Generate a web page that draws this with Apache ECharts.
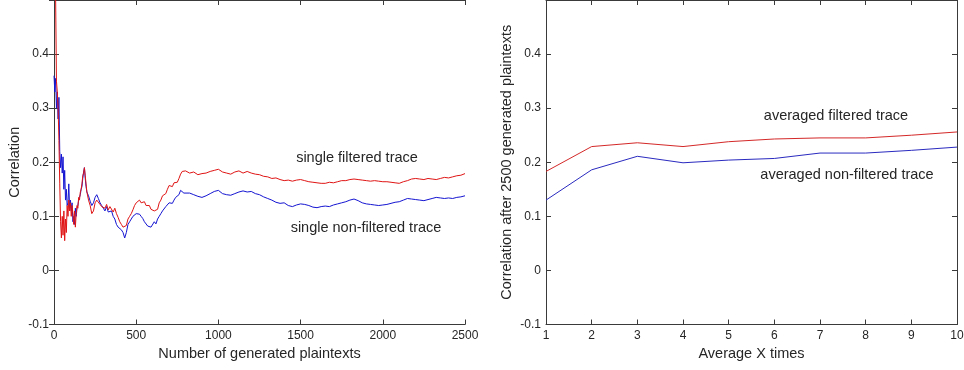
<!DOCTYPE html>
<html>
<head>
<meta charset="utf-8">
<script src="https://cdn.jsdelivr.net/npm/echarts@6/dist/echarts.min.js"></script>
<style>
html,body{margin:0;padding:0;background:#fff;}
#c{width:964px;height:370px;}
</style>
</head>
<body>
<div id="c"></div>
<script>
// ---- data ----
const leftSamples = [
0,5,10,15,20,25,30,35,40,45,50,55,60,65,70,75,80,85,90,95,100,105,110,115,120,125,130,135,140,145,150,155,160,165,170,175,180,185,190,195,200,
210,220,230,240,250,260,270,280,290,300,310,320,330,340,350,360,370,380,390,400,410,420,430,440,450,460,470,480,490,500,
510,520,530,540,550,560,570,580,590,600,610,620,630,640,650,660,670,680,690,700,710,720,730,740,750,760,770,780,790,800,
825,850,875,900,925,950,975,1000,1025,1050,1075,1100,1125,1150,1175,1200,1225,1250,1275,1300,1325,1350,1375,1400,1425,1450,1475,1500,
1525,1550,1575,1600,1625,1650,1675,1700,1725,1750,1775,1800,1825,1850,1875,1900,1925,1950,1975,2000,2025,2050,2075,2100,2125,2150,
2175,2200,2225,2250,2275,2300,2325,2350,2375,2400,2425,2450,2475,2500
];
const singleFiltered = [
0.80,0.62,0.50,0.35,0.33,0.30,0.24,0.16,0.09,0.06,0.10,0.065,0.11,0.055,0.095,0.07,0.12,0.10,0.13,0.11,0.125,0.10,0.12,0.105,0.085,0.11,0.08,0.105,0.12,0.115,0.135,0.13,0.145,0.15,0.16,0.175,0.18,0.19,0.175,0.16,0.145,
0.13,0.12,0.105,0.11,0.125,0.13,0.128,0.122,0.118,0.12,0.115,0.122,0.112,0.118,0.12,0.108,0.115,0.105,0.098,0.09,0.085,0.08,0.077,0.083,0.095,0.10,0.105,0.112,0.12,0.125,
0.128,0.13,0.125,0.122,0.127,0.12,0.118,0.12,0.113,0.115,0.11,0.109,0.113,0.125,0.13,0.138,0.135,0.142,0.15,0.157,0.16,0.155,0.162,0.165,0.163,0.17,0.178,0.183,0.18,0.184,
0.18,0.182,0.177,0.179,0.18,0.183,0.185,0.187,0.182,0.18,0.178,0.182,0.184,0.18,0.183,0.18,0.178,0.177,0.174,0.173,0.17,0.171,0.168,0.166,0.167,0.165,0.167,0.168,
0.166,0.164,0.163,0.162,0.161,0.161,0.163,0.162,0.164,0.166,0.166,0.168,0.169,0.168,0.167,0.166,0.165,0.166,0.165,0.164,0.164,0.163,0.162,0.161,0.164,0.166,
0.169,0.17,0.169,0.168,0.17,0.169,0.168,0.17,0.172,0.171,0.173,0.175,0.176,0.179
];
const singleNonFiltered = [
0.36,0.33,0.355,0.30,0.33,0.28,0.32,0.22,0.19,0.215,0.18,0.21,0.15,0.185,0.13,0.15,0.12,0.125,0.16,0.115,0.13,0.11,0.125,0.09,0.10,0.085,0.115,0.10,0.115,0.12,0.13,0.135,0.14,0.15,0.155,0.17,0.182,0.19,0.17,0.155,0.145,
0.138,0.128,0.12,0.125,0.135,0.14,0.133,0.125,0.12,0.115,0.11,0.118,0.108,0.105,0.11,0.10,0.095,0.085,0.08,0.078,0.075,0.07,0.06,0.07,0.085,0.09,0.095,0.10,0.098,0.105,
0.108,0.104,0.10,0.096,0.09,0.088,0.082,0.085,0.08,0.083,0.09,0.086,0.095,0.10,0.105,0.11,0.112,0.118,0.12,0.125,0.128,0.124,0.13,0.135,0.132,0.14,0.148,0.145,0.143,0.146,
0.143,0.14,0.137,0.135,0.138,0.142,0.146,0.148,0.142,0.14,0.139,0.142,0.145,0.147,0.145,0.146,0.142,0.14,0.136,0.133,0.13,0.126,0.124,0.125,0.12,0.118,0.121,0.123,
0.122,0.12,0.117,0.116,0.118,0.119,0.118,0.121,0.123,0.125,0.127,0.13,0.132,0.129,0.125,0.123,0.122,0.121,0.12,0.121,0.122,0.124,0.126,0.127,0.13,0.133,
0.132,0.131,0.13,0.129,0.131,0.133,0.135,0.134,0.133,0.134,0.133,0.135,0.136,0.138
];
const avgTimes = [1,2,3,4,5,6,7,8,9,10];
const avgFiltered = [0.183,0.229,0.236,0.229,0.238,0.243,0.245,0.245,0.250,0.256];
const avgNonFiltered = [0.130,0.186,0.211,0.199,0.204,0.207,0.217,0.217,0.222,0.228];
const yMin = -0.1, yMax = 0.5, yStep = 0.1;

// ---- chart ----
const chart = echarts.init(document.getElementById('c'), null, {renderer: 'canvas'});
const TXT = '#262626';
const AX = '#3a3a3a';
const FONT = 'Liberation Sans, Arial, sans-serif';

function yFmt(v){ const r = Math.round(v*10)/10; return Math.abs(r) < 1e-9 ? '0' : String(r); }
function xFmt(v){ return String(Math.round(v)); }

function mainY(gi, name){
  return {
    type:'value', gridIndex: gi, min: yMin, max: yMax, interval: yStep, position:'left',
    name: name, nameLocation:'middle', nameGap: 32,
    nameTextStyle:{color: TXT, fontSize: 14.5, fontFamily: FONT},
    axisLine:{show:true, lineStyle:{color: AX, width:1}},
    axisTick:{show:true, inside:true, length:5, lineStyle:{color: AX}},
    axisLabel:{color: TXT, fontSize: 12, fontFamily: FONT, margin: 5, formatter: yFmt, showMaxLabel:false},
    splitLine:{show:false}
  };
}
function mirrorY(gi){
  return {
    type:'value', gridIndex: gi, min: yMin, max: yMax, interval: yStep, position:'right',
    axisLine:{show:true, lineStyle:{color: AX, width:1}},
    axisTick:{show:true, inside:true, length:5, lineStyle:{color: AX}},
    axisLabel:{show:false}, splitLine:{show:false}
  };
}
function mainX(gi, name, min, max, interval){
  return {
    type:'value', gridIndex: gi, min: min, max: max, interval: interval, position:'bottom',
    name: name, nameLocation:'middle', nameGap: 21,
    nameTextStyle:{color: TXT, fontSize: 14.5, fontFamily: FONT},
    axisLine:{show:true, onZero:false, lineStyle:{color: AX, width:1}},
    axisTick:{show:true, inside:true, length:5, lineStyle:{color: AX}},
    axisLabel:{color: TXT, fontSize: 12, fontFamily: FONT, margin: 5, formatter: xFmt, showMinLabel:true, showMaxLabel:true},
    splitLine:{show:false}
  };
}
function mirrorX(gi, min, max, interval){
  return {
    type:'value', gridIndex: gi, min: min, max: max, interval: interval, position:'top',
    axisLine:{show:true, onZero:false, lineStyle:{color: AX, width:1}},
    axisTick:{show:true, inside:true, length:5, lineStyle:{color: AX}},
    axisLabel:{show:false}, splitLine:{show:false}
  };
}

const option = {
  backgroundColor:'#ffffff',
  animation:false,
  grid:[
    {left:54, top:0, width:411, height:324.5, outerBoundsMode:'none', containLabel:false},
    {left:546, top:0, width:411, height:324.5, outerBoundsMode:'none', containLabel:false}
  ],
  xAxis:[
    mainX(0, 'Number of generated plaintexts', 0, 2500, 500),
    mirrorX(0, 0, 2500, 500),
    mainX(1, 'Average X times', 1, 10, 1),
    mirrorX(1, 1, 10, 1)
  ],
  yAxis:[
    mainY(0, 'Correlation'),
    mirrorY(0),
    mainY(1, 'Correlation after 2500 generated plaintexts'),
    mirrorY(1)
  ],
  series:[
    {name:'single filtered trace', type:'line', xAxisIndex:0, yAxisIndex:0, showSymbol:false, clip:true,
     lineStyle:{color:'#e01414', width:1}, itemStyle:{color:'#e01414'},
     data: leftSamples.map((s,i)=>[s, singleFiltered[i]])},
    {name:'single non-filtered trace', type:'line', xAxisIndex:0, yAxisIndex:0, showSymbol:false, clip:true,
     lineStyle:{color:'#1414d2', width:1}, itemStyle:{color:'#1414d2'}, z: 1,
     data: leftSamples.map((s,i)=>[s, singleNonFiltered[i]])},
    {name:'averaged filtered trace', type:'line', xAxisIndex:2, yAxisIndex:2, showSymbol:false,
     lineStyle:{color:'#d42828', width:1}, itemStyle:{color:'#d42828'},
     data: avgTimes.map((t,i)=>[t, avgFiltered[i]])},
    {name:'averaged non-filtered trace', type:'line', xAxisIndex:2, yAxisIndex:2, showSymbol:false,
     lineStyle:{color:'#2a2ac0', width:1}, itemStyle:{color:'#2a2ac0'},
     data: avgTimes.map((t,i)=>[t, avgNonFiltered[i]])}
  ],
  graphic:[
    {type:'text', x:357, y:158, style:{text:'single filtered trace', fill:TXT, font:'14.5px Liberation Sans, Arial, sans-serif', align:'center', verticalAlign:'middle', textAlign:'center', textVerticalAlign:'middle'}},
    {type:'text', x:366, y:228, style:{text:'single non-filtered trace', fill:TXT, font:'14.5px Liberation Sans, Arial, sans-serif', align:'center', verticalAlign:'middle', textAlign:'center', textVerticalAlign:'middle'}},
    {type:'text', x:836, y:116, style:{text:'averaged filtered trace', fill:TXT, font:'14.5px Liberation Sans, Arial, sans-serif', align:'center', verticalAlign:'middle', textAlign:'center', textVerticalAlign:'middle'}},
    {type:'text', x:847, y:175, style:{text:'averaged non-filtered trace', fill:TXT, font:'14.5px Liberation Sans, Arial, sans-serif', align:'center', verticalAlign:'middle', textAlign:'center', textVerticalAlign:'middle'}}
  ]
};
chart.setOption(option);
</script>
</body>
</html>
